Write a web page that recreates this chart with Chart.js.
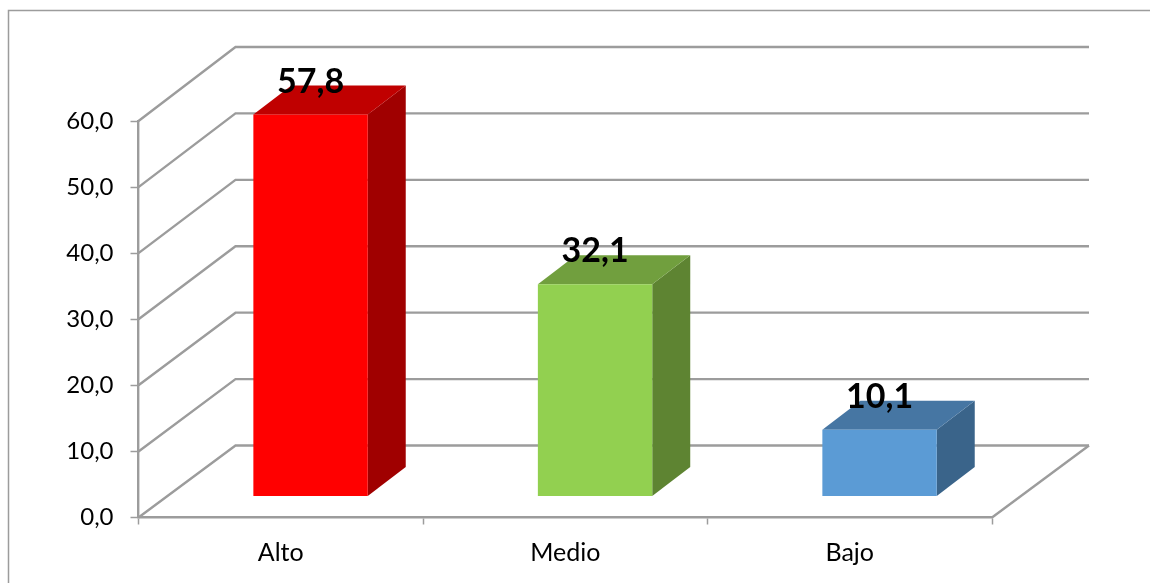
<!DOCTYPE html>
<html><head><meta charset="utf-8">
<style>html,body{margin:0;padding:0;background:#fff;overflow:hidden}canvas{display:block}</style>
<script src="https://cdn.jsdelivr.net/npm/chart.js@4"></script>
</head><body><div style="width:1150px;height:583px"><canvas id="c" width="1150" height="583"></canvas></div>
<script>
const categories = ['Alto','Medio','Bajo'];
const values = [57.8,32.1,10.1];
const valueLabels = ['57,8','32,1','10,1'];
const yTickLabels = ['0,0','10,0','20,0','30,0','40,0','50,0','60,0'];
const frontColors = ['#FF0000','#92D050','#5B9BD5'];
const topColors = ['#C00000','#719F3E','#4676A3'];
const sideColors = ['#A00000','#5E8432','#3A648A'];
const GRID = '#9C9C9C', FONT = 'Lato, "Open Sans", sans-serif';
const WALL = {dx:97, dy:-72, skew:-2}, BAR = {dx:29.8, dy:-21}, DEPTH = {dx:38, dy:-29};

function line(ctx, pts){ctx.beginPath();pts.forEach((p,i)=>i?ctx.lineTo(p[0],p[1]):ctx.moveTo(p[0],p[1]));ctx.stroke();}
function poly(ctx, pts, col){ctx.fillStyle=col;ctx.beginPath();pts.forEach((p,i)=>i?ctx.lineTo(p[0],p[1]):ctx.moveTo(p[0],p[1]));ctx.closePath();ctx.fill();}

const box3d = {
  id:'box3d',
  beforeDraw(chart){
    const c=chart.ctx;c.save();c.strokeStyle=GRID;c.lineWidth=1.5;
    line(c,[[1150,10.5],[8.5,10.5],[8.5,583]]);c.restore();
  },
  beforeDatasetsDraw(chart){
    const c=chart.ctx,y=chart.scales.y,a=chart.chartArea,n=yTickLabels.length-1;
    c.save();c.strokeStyle=GRID;c.lineWidth=2.4;
    yTickLabels.forEach((_,i)=>{
      const v=y.getPixelForValue(i*10),bv=v+WALL.dy+WALL.skew*i/n;
      line(c,[[a.left,v],[a.left+WALL.dx,bv],[a.right+WALL.dx,bv]]);
    });
    const b=y.getPixelForValue(0);
    line(c,[[a.right,b],[a.right+WALL.dx,b+WALL.dy]]);
    c.restore();
    const meta=chart.getDatasetMeta(0);
    meta.data.forEach((el,i)=>{
      const l=el.x-el.width/2+BAR.dx,r=el.x+el.width/2+BAR.dx,t=el.y+BAR.dy,bt=el.base+BAR.dy;
      poly(c,[[r,t],[r+DEPTH.dx,t+DEPTH.dy],[r+DEPTH.dx,bt+DEPTH.dy],[r,bt]],sideColors[i]);
      poly(c,[[l,t],[l+DEPTH.dx,t+DEPTH.dy],[r+DEPTH.dx,t+DEPTH.dy],[r,t]],topColors[i]);
    });
    c.save();c.translate(BAR.dx,BAR.dy);
  },
  afterDatasetsDraw(chart){
    const c=chart.ctx;c.restore();
    c.save();c.fillStyle='#000';c.font='bold 34px '+FONT;c.textAlign='center';c.textBaseline='alphabetic';
    chart.getDatasetMeta(0).data.forEach((el,i)=>{
      c.fillText(valueLabels[i],el.x+BAR.dx,el.y+BAR.dy-22);
    });
    c.restore();
  }
};

new Chart(document.getElementById('c'),{
  type:'bar',
  data:{labels:categories,datasets:[{data:values,backgroundColor:frontColors,borderWidth:0,barPercentage:0.402,categoryPercentage:1,clip:false}]},
  plugins:[box3d],
  options:{
    responsive:false,animation:false,
    layout:{padding:{left:0,right:158,top:121,bottom:0}},
    plugins:{legend:{display:false},tooltip:{enabled:false}},
    scales:{
      x:{
        afterFit(s){s.height=65.5;},
        grid:{drawOnChartArea:false,drawTicks:true,tickLength:7,tickColor:GRID,tickWidth:1.5},
        border:{color:GRID,width:2.5},
        ticks:{color:'#000',font:{family:FONT,size:25},padding:13,maxRotation:0}
      },
      y:{
        min:0,max:60,
        afterFit(s){s.width=138.5;},
        afterBuildTicks(s){s.ticks=yTickLabels.map((_,i)=>({value:i*10}));},
        grid:{drawOnChartArea:false,drawTicks:true,tickLength:8,tickColor:GRID,tickWidth:1.5},
        border:{color:GRID,width:2.4},
        ticks:{color:'#000',font:{family:FONT,size:24},padding:17,callback:(v,i)=>yTickLabels[i]}
      }
    }
  }
});
</script></body></html>
